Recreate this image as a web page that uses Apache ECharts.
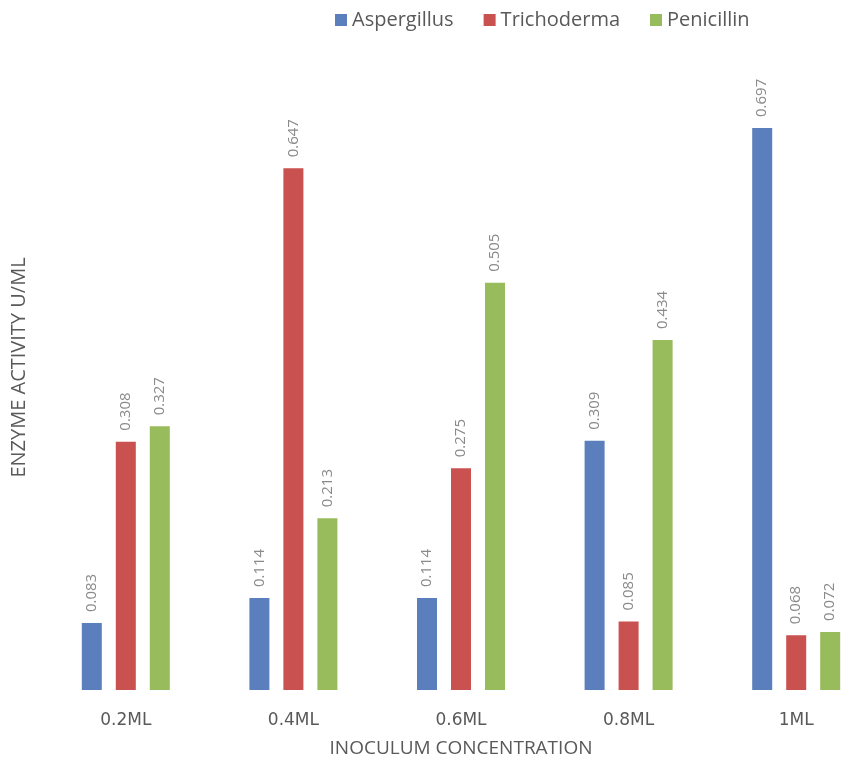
<!DOCTYPE html>
<html>
<head>
<meta charset="utf-8">
<script src="https://cdn.jsdelivr.net/npm/echarts@6/dist/echarts.min.js"></script>
<style>
  html, body { margin:0; padding:0; background:#fff; }
  #main { width:846px; height:765px; }
</style>
</head>
<body>
<div id="main"></div>
<script>
var categories = ["0.2ML", "0.4ML", "0.6ML", "0.8ML", "1ML"];
var aspergillus = [0.083, 0.114, 0.114, 0.309, 0.697];
var trichoderma = [0.308, 0.647, 0.275, 0.085, 0.068];
var penicillin = [0.327, 0.213, 0.505, 0.434, 0.072];

var font = "'Open Sans', 'Liberation Sans', sans-serif";

var myChart = echarts.init(document.getElementById('main'));

function barLabel() {
    return {
        show: true,
        position: 'top',
        rotate: 90,
        align: 'left',
        verticalAlign: 'middle',
        distance: 11,
        color: '#8a8a8a',
        fontFamily: font,
        fontSize: 15,
        formatter: function (p) { return p.value.toFixed(3); }
    };
}

var option = {
    animation: false,
    backgroundColor: '#fff',
    textStyle: { fontFamily: font },
    legend: {
        top: 5,
        left: 330,
        itemWidth: 12,
        itemHeight: 12,
        itemGap: 30,
        icon: 'rect',
        textStyle: { color: '#595959', fontSize: 20, fontFamily: font },
        data: ['Aspergillus', 'Trichoderma', 'Penicillin']
    },
    grid: {
        left: 42,
        width: 838,
        top: 45,
        bottom: 75,
        containLabel: false,
        outerBoundsMode: 'none'
    },
    xAxis: {
        type: 'category',
        data: categories,
        axisLine: { show: false },
        axisTick: { show: false },
        axisLabel: {
            margin: 22,
            color: '#595959',
            fontSize: 17,
            fontFamily: "'DejaVu Sans', sans-serif"
        },
        name: 'INOCULUM CONCENTRATION',
        nameLocation: 'middle',
        nameGap: 49,
        nameTextStyle: { color: '#595959', fontSize: 19, fontFamily: font }
    },
    yAxis: {
        type: 'value',
        min: 0,
        max: 0.8,
        interval: 0.1,
        axisLine: { show: false },
        axisTick: { show: false },
        axisLabel: { show: false },
        splitLine: { show: false },
        name: 'ENZYME ACTIVITY U/ML',
        nameLocation: 'middle',
        nameGap: 13,
        nameTextStyle: { color: '#595959', fontSize: 20, fontFamily: font }
    },
    series: [{
        name: 'Aspergillus',
        type: 'bar',
        barWidth: 20,
        barGap: '70%',
        data: aspergillus,
        itemStyle: { color: '#5b7fbc' },
        label: barLabel()
    }, {
        name: 'Trichoderma',
        type: 'bar',
        barWidth: 20,
        barGap: '70%',
        data: trichoderma,
        itemStyle: { color: '#c9514f' },
        label: barLabel()
    }, {
        name: 'Penicillin',
        type: 'bar',
        barWidth: 20,
        barGap: '70%',
        data: penicillin,
        itemStyle: { color: '#98bb5c' },
        label: barLabel()
    }]
};

myChart.setOption(option);
</script>
</body>
</html>
